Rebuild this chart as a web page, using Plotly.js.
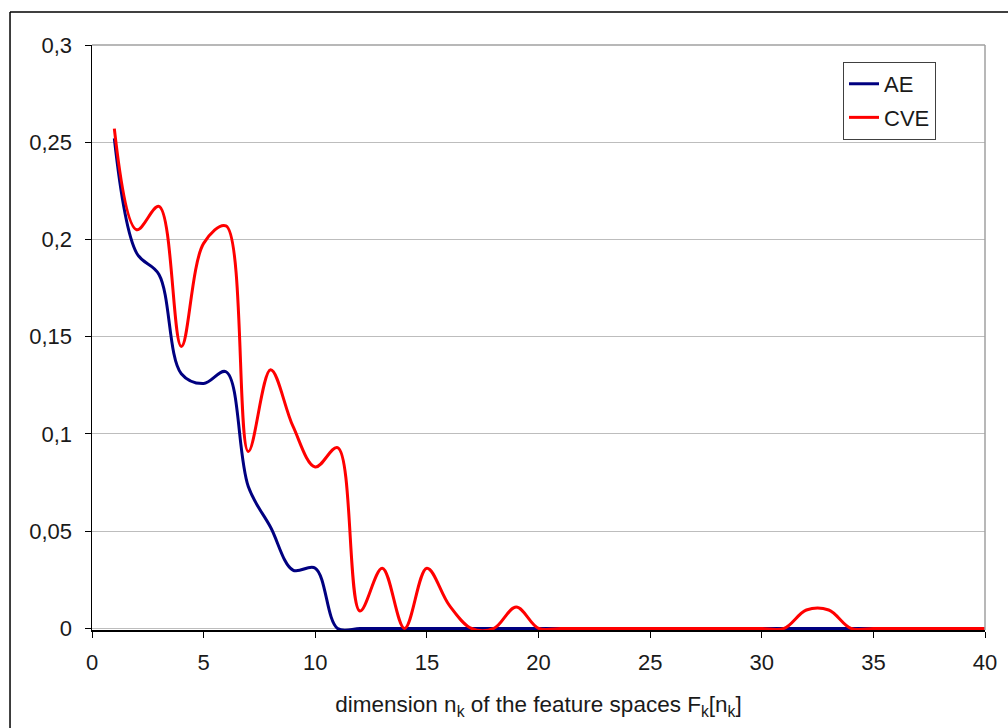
<!DOCTYPE html>
<html>
<head>
<meta charset="utf-8">
<script src="https://cdn.plot.ly/plotly-3.0.1.min.js"></script>
<style>
  html, body { margin: 0; padding: 0; background: #ffffff; }
  #chart { width: 1008px; height: 728px; }
</style>
</head>
<body>
<div id="chart"></div>
<script>
// Data
var dimensions = [1,2,3,4,5,6,7,8,9,10,11,12,13,14,15,16,17,18,19,20,
                  21,22,23,24,25,26,27,28,29,30,31,32,33,34,35,36,37,38,39,40];
var aeValues = [0.252,0.193,0.182,0.131,0.126,0.132,0.073,0.052,0.030,0.031,
                0,0,0,0,0,0,0,0,0,0,
                0,0,0,0,0,0,0,0,0,0,
                0,0,0,0,0,0,0,0,0,0];
var cveValues = [0.257,0.205,0.217,0.145,0.198,0.207,0.091,0.133,0.104,0.083,
                 0.093,0.009,0.031,0,0.031,0.012,0,0,0.011,0,
                 0,0,0,0,0,0,0,0,0,0,
                 0,0.0095,0.0095,0,0,0,0,0,0,0];
var seriesNames = ['AE', 'CVE'];
var yTickValues = [0, 0.05, 0.1, 0.15, 0.2, 0.25, 0.3];
var xTickValues = [0, 5, 10, 15, 20, 25, 30, 35, 40];
var xAxisTitle = 'dimension n<sub>k</sub> of the feature spaces F<sub>k</sub>[n<sub>k</sub>]';

var fontFamily = '"Liberation Sans", Arial, sans-serif';

var traces = [
  {
    x: dimensions, y: aeValues, name: seriesNames[0], legendgroup: 'g1',
    type: 'scatter', mode: 'lines',
    line: { color: '#000080', width: 3, shape: 'spline', smoothing: 1 }
  },
  {
    x: dimensions, y: cveValues, name: seriesNames[1], legendgroup: 'g2',
    type: 'scatter', mode: 'lines',
    line: { color: '#ff0000', width: 3, shape: 'spline', smoothing: 1 }
  }
];

var layout = {
  width: 1008, height: 728,
  margin: { l: 92, r: 23, t: 45, b: 98, pad: 0 },
  paper_bgcolor: '#ffffff', plot_bgcolor: '#ffffff',
  separators: ',.',
  font: { family: fontFamily, size: 21, color: '#1a1a1a' },
  showlegend: true,
  legend: {
    x: 0.841, y: 0.971, xanchor: 'left', yanchor: 'top',
    traceorder: 'grouped', tracegroupgap: 2,
    bgcolor: '#ffffff', bordercolor: '#404040', borderwidth: 1,
    font: { family: fontFamily, size: 22, color: '#1a1a1a' }
  },
  xaxis: {
    range: [0, 40], tickvals: xTickValues,
    showgrid: false, zeroline: false,
    showline: true, linecolor: '#000000', linewidth: 1.5,
    ticks: 'outside', ticklen: 6, tickcolor: '#000000', tickwidth: 1,
    ticklabelstandoff: 6,
    tickfont: { family: fontFamily, size: 22, color: '#1a1a1a' },
    title: { text: xAxisTitle, standoff: 22, font: { family: fontFamily, size: 22.5, color: '#1a1a1a' } }
  },
  yaxis: {
    range: [-0.0008, 0.3], tickvals: yTickValues,
    showgrid: true, gridcolor: '#bdbdbd', gridwidth: 1,
    zeroline: false,
    showline: true, linecolor: '#000000', linewidth: 1.5,
    ticks: 'outside', ticklen: 6, tickcolor: '#000000', tickwidth: 1,
    ticklabelstandoff: 8,
    tickfont: { family: fontFamily, size: 22, color: '#1a1a1a' }
  },
  shapes: [
    // plot-area right border (gray)
    { type: 'line', xref: 'paper', yref: 'paper', x0: 1, x1: 1, y0: 0, y1: 1,
      line: { color: '#a0a0a0', width: 1.5 } },
    // plot-area top border (gray)
    { type: 'line', xref: 'paper', yref: 'paper', x0: 0, x1: 1, y0: 1, y1: 1,
      line: { color: '#a0a0a0', width: 1.5 } },
    // outer chart frame: left and top edges
    { type: 'line', xref: 'paper', yref: 'paper', x0: -0.0918, x1: -0.0918, y0: 1.0564, y1: -0.2,
      line: { color: '#000000', width: 1.5 } },
    { type: 'line', xref: 'paper', yref: 'paper', x0: -0.0918, x1: 1.05, y0: 1.0564, y1: 1.0564,
      line: { color: '#000000', width: 1.5 } }
  ]
};

Plotly.newPlot('chart', traces, layout, { staticPlot: true, displayModeBar: false });
</script>
</body>
</html>
